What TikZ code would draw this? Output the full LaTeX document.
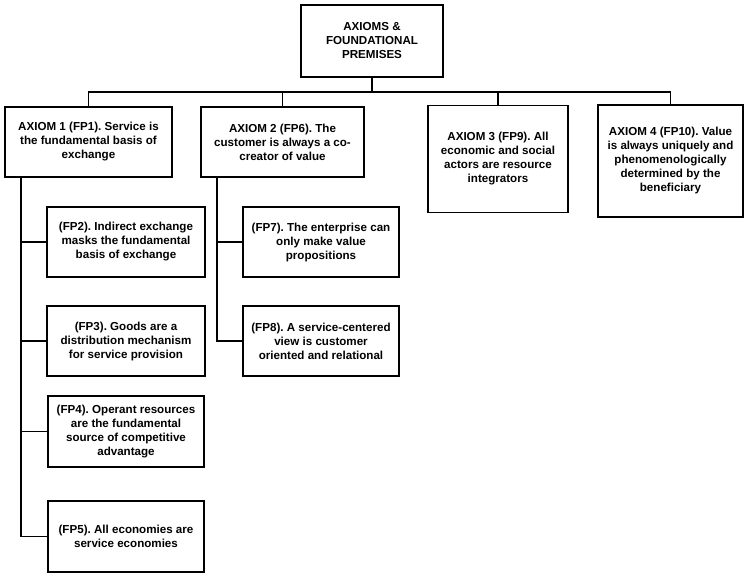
\documentclass[tikz,border=0pt]{standalone}
\usepackage{fontspec}
\setmainfont{Liberation Sans}
\usepackage{tikz}
\frenchspacing

\tikzset{
  premise/.style={draw, line width=1.8pt, align=center, inner sep=0pt,
    font=\bfseries\fontsize{11.6}{14}\selectfont},
  link/.style={line width=1.8pt}
}

\begin{document}
\begin{tikzpicture}[x=1pt, y=-1pt]
    \useasboundingbox (0,0) rectangle (745,578);
    % top of the tree
    \node[premise, minimum width=142pt, minimum height=72pt] (top) at (372,41) {AXIOMS \&\\FOUNDATIONAL\\PREMISES};
    % the four axioms
    \node[premise, minimum width=167pt, minimum height=70pt] (ax1) at (88.5,142) {AXIOM 1 (FP1). Service is\\the fundamental basis of\\exchange};
    \node[premise, minimum width=163pt, minimum height=70pt] (ax2) at (282.5,142) {AXIOM 2 (FP6). The\\customer is always a co-\\creator of value};
    \node[premise, minimum width=140pt, minimum height=107pt] (ax3) at (498,159) {AXIOM 3 (FP9). All\\economic and social\\actors are resource\\integrators};
    \node[premise, minimum width=145pt, minimum height=112pt] (ax4) at (670.5,161) {AXIOM 4 (FP10). Value\\is always uniquely and\\phenomenologically\\determined by the\\beneficiary};
    % premises under axiom 1
    \node[premise, minimum width=158pt, minimum height=70pt] (fp2) at (126,242) {(FP2). Indirect exchange\\masks the fundamental\\basis of exchange};
    \node[premise, minimum width=158pt, minimum height=70pt] (fp3) at (126,341) {(FP3). Goods are a\\distribution mechanism\\for service provision};
    \node[premise, minimum width=156pt, minimum height=71pt] (fp4) at (126,431.5) {(FP4). Operant resources\\are the fundamental\\source of competitive\\advantage};
    \node[premise, minimum width=156pt, minimum height=71pt] (fp5) at (126,536.5) {(FP5). All economies are\\service economies};
    % premises under axiom 2
    \node[premise, minimum width=156pt, minimum height=70pt] (fp7) at (321,242) {(FP7). The enterprise can\\only make value\\propositions};
    \node[premise, minimum width=156pt, minimum height=70pt] (fp8) at (321,341) {(FP8). A service-centered\\view is customer\\oriented and relational};

    \coordinate (bus) at (372,92); % level of the horizontal line
    \draw[link] (top.south) -- (bus);
    \foreach \ax in {ax1,ax2,ax3,ax4}
        \draw[link] (bus) -| (\ax.north);
    % side spines
    \foreach \fp in {fp2,fp3,fp4,fp5}
        \draw[link] ([xshift=17pt]ax1.south west) |- (\fp.west);
    \foreach \fp in {fp7,fp8}
        \draw[link] ([xshift=17pt]ax2.south west) |- (\fp.west);
\end{tikzpicture}
\end{document}
